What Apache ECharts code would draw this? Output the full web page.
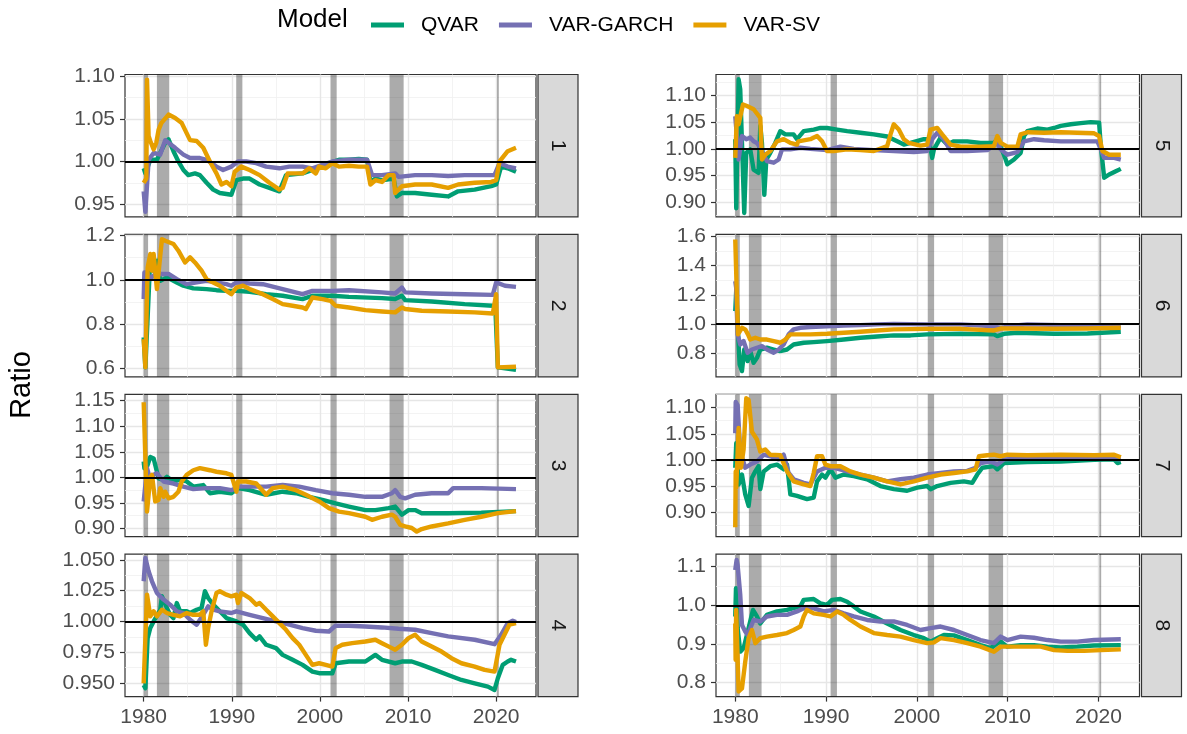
<!DOCTYPE html>
<html>
<head>
<meta charset="utf-8">
<script src="https://cdn.jsdelivr.net/npm/echarts@6/dist/echarts.min.js"></script>
<style>
  html, body { margin: 0; padding: 0; background: #ffffff; }
  #chart { width: 1187px; height: 734px; }
</style>
</head>
<body>
<div id="chart"></div>
<script>
// ---------- model names and colours ----------
const modelNames = ['QVAR', 'VAR-GARCH', 'VAR-SV'];
const modelColors = ['#009E73', '#7570B3', '#E69F00'];

// ---------- facet labels and axis ticks ----------
const panelLabels = ['1', '2', '3', '4', '5', '6', '7', '8'];
const xTickLabels = ['1980', '1990', '2000', '2010', '2020'];
const xMinorTicks = [1985, 1995, 2005, 2015];
const xRange = [1977.88, 2024.52];

const yTickLabels = [
  ['0.95', '1.00', '1.05', '1.10'],
  ['0.6', '0.8', '1.0', '1.2'],
  ['0.90', '0.95', '1.00', '1.05', '1.10', '1.15'],
  ['0.950', '0.975', '1.000', '1.025', '1.050'],
  ['0.90', '0.95', '1.00', '1.05', '1.10'],
  ['0.8', '1.0', '1.2', '1.4', '1.6'],
  ['0.90', '0.95', '1.00', '1.05', '1.10'],
  ['0.8', '0.9', '1.0', '1.1']
];
const yMinorTicks = [
  [0.975, 1.025, 1.075],
  [0.7, 0.9, 1.1],
  [0.925, 0.975, 1.025, 1.075, 1.125],
  [0.9625, 0.9875, 1.0125, 1.0375],
  [0.875, 0.925, 0.975, 1.025, 1.075, 1.125],
  [0.7, 0.9, 1.1, 1.3, 1.5],
  [0.875, 0.925, 0.975, 1.025, 1.075, 1.125],
  [0.85, 0.95, 1.05]
];
const yRanges = [
  [0.935, 1.102], [0.5625, 1.2045], [0.884, 1.1625], [0.9389, 1.0546],
  [0.8727, 1.139], [0.641, 1.6116], [0.853, 1.1256], [0.7638, 1.132]
];

// recession periods (start, end) in decimal years
const recessions = [
  [1980.0, 1980.5], [1981.5, 1982.9], [1990.5, 1991.2],
  [2001.2, 2001.9], [2007.9, 2009.5], [2020.1, 2020.3]
];

// ---------- ratio series, [year, ratio] ----------
// panel 1
const qvar1 = [[1980.0,0.992],[1980.19,0.986],[1980.75,1.002],[1981.5,1.002],[1982.44,1.022],[1982.82,1.026],[1983.38,1.012],[1983.94,1.0],[1984.51,0.990],[1985.07,0.984],[1985.82,0.986],[1986.38,0.984],[1987.14,0.975],[1987.89,0.967],[1988.64,0.963],[1989.95,0.961],[1990.52,0.978],[1991.27,0.980],[1992.02,0.980],[1993.15,0.973],[1994.27,0.969],[1995.4,0.965],[1996.15,0.984],[1998.03,0.986],[1999.15,0.990],[1999.91,0.994],[2001.03,0.998],[2002.16,1.002],[2003.29,1.002],[2004.41,1.003],[2005.35,1.002],[2005.73,0.976],[2006.29,0.980],[2007.04,0.978],[2008.36,0.980],[2008.73,0.959],[2009.3,0.963],[2010.8,0.963],[2012.68,0.961],[2014.55,0.959],[2015.68,0.965],[2017.56,0.967],[2019.44,0.971],[2020.0,0.973],[2020.56,0.994],[2021.31,0.992],[2022.25,0.988]];
const garch1 = [[1980.0,0.965],[1980.19,0.941],[1980.56,1.002],[1981.13,1.010],[1981.88,1.008],[1982.44,1.025],[1982.82,1.022],[1983.57,1.016],[1984.51,1.008],[1985.26,1.004],[1986.38,1.004],[1987.14,1.002],[1988.26,0.994],[1989.01,0.990],[1989.95,0.994],[1990.7,1.0],[1991.64,1.0],[1992.77,0.998],[1993.9,0.994],[1995.4,0.992],[1996.53,0.994],[1998.03,0.994],[1999.15,0.992],[2000.28,0.996],[2001.41,1.0],[2003.29,1.002],[2005.35,1.002],[2005.92,0.984],[2007.04,0.984],[2008.54,0.986],[2008.92,0.982],[2010.8,0.984],[2012.68,0.984],[2014.55,0.983],[2016.43,0.984],[2018.31,0.984],[2019.81,0.984],[2020.38,0.998],[2021.31,0.994],[2022.25,0.992]];
const sv1 = [[1980.0,0.975],[1980.3,0.980],[1980.38,1.096],[1980.56,1.030],[1980.75,1.024],[1981.13,1.014],[1981.43,1.022],[1981.69,1.037],[1982.0,1.045],[1982.82,1.055],[1983.57,1.051],[1984.32,1.045],[1985.26,1.025],[1986.01,1.024],[1986.76,1.016],[1987.51,1.0],[1988.26,0.986],[1988.83,0.973],[1989.39,0.976],[1989.95,0.971],[1990.33,0.988],[1991.08,0.994],[1992.02,0.990],[1993.15,0.984],[1994.27,0.975],[1995.4,0.967],[1995.77,0.969],[1996.34,0.986],[1998.03,0.986],[1998.78,0.992],[1999.53,0.986],[1999.91,0.994],[2000.66,0.992],[2001.41,0.998],[2002.16,0.994],[2003.29,0.995],[2004.41,0.994],[2005.35,0.994],[2005.73,0.973],[2006.29,0.978],[2007.04,0.976],[2007.79,0.984],[2008.36,0.984],[2008.54,0.963],[2009.3,0.971],[2010.8,0.973],[2012.68,0.973],[2014.55,0.969],[2015.68,0.973],[2017.56,0.975],[2019.44,0.976],[2020.0,0.978],[2020.38,1.0],[2021.31,1.012],[2022.25,1.016]];

// panel 2
const qvar2 = [[1980.0,0.740],[1980.19,0.605],[1980.45,0.830],[1980.75,1.101],[1981.13,1.041],[1981.5,1.086],[1981.88,0.995],[1982.63,1.011],[1983.76,0.988],[1984.51,0.973],[1985.63,0.961],[1987.14,0.958],[1988.26,0.953],[1989.39,0.950],[1990.52,0.950],[1992.02,0.946],[1993.9,0.935],[1995.77,0.928],[1998.03,0.913],[1999.15,0.928],[2001.41,0.928],[2003.29,0.923],[2007.04,0.917],[2008.54,0.913],[2009.3,0.928],[2009.67,0.908],[2012.68,0.902],[2016.43,0.890],[2019.62,0.883],[2019.9,0.880],[2020.19,0.605],[2022.25,0.594]];
const garch2 = [[1980.0,0.913],[1980.08,1.033],[1980.38,1.033],[1980.75,1.003],[1981.31,1.026],[1982.44,1.026],[1982.82,1.026],[1983.76,1.003],[1984.88,0.980],[1986.01,0.988],[1987.14,0.995],[1988.26,0.988],[1989.39,0.980],[1989.95,0.973],[1990.52,0.988],[1992.02,0.983],[1993.52,0.980],[1995.77,0.958],[1998.03,0.935],[1999.15,0.950],[2001.41,0.950],[2003.29,0.953],[2007.04,0.943],[2008.54,0.938],[2009.3,0.965],[2009.67,0.943],[2012.68,0.938],[2016.43,0.935],[2019.62,0.932],[2020.0,0.988],[2021.0,0.973],[2022.25,0.968]];
const sv2 = [[1980.0,0.732],[1980.19,0.605],[1980.45,1.056],[1980.75,1.116],[1980.94,1.041],[1981.13,1.116],[1981.5,0.958],[1981.69,0.958],[1982.07,1.183],[1982.44,1.176],[1983.38,1.161],[1983.94,1.131],[1984.69,1.078],[1985.26,1.101],[1985.82,1.078],[1986.57,1.041],[1987.14,1.003],[1987.89,0.988],[1988.64,0.973],[1989.39,0.950],[1989.95,0.935],[1990.52,0.965],[1991.27,0.973],[1992.02,0.958],[1993.52,0.935],[1994.65,0.913],[1995.77,0.890],[1996.9,0.883],[1998.03,0.875],[1998.4,0.868],[1999.15,0.920],[2000.28,0.913],[2001.22,0.905],[2001.78,0.883],[2003.29,0.875],[2005.16,0.863],[2007.04,0.857],[2008.54,0.853],[2009.3,0.875],[2009.67,0.868],[2011.55,0.860],[2014.55,0.857],[2017.56,0.853],[2019.62,0.848],[2020.0,0.935],[2020.19,0.605],[2022.25,0.608]];

// panel 3
const qvar3 = [[1980.0,1.031],[1980.08,1.018],[1980.38,1.021],[1980.75,1.040],[1981.13,1.037],[1981.31,1.040],[1981.69,0.998],[1982.25,0.995],[1982.63,1.001],[1983.38,0.992],[1984.13,0.995],[1984.88,0.992],[1985.63,0.982],[1986.76,0.985],[1987.51,0.969],[1988.64,0.972],[1989.95,0.969],[1990.7,0.979],[1992.02,0.975],[1993.9,0.966],[1995.77,0.972],[1997.28,0.969],[1998.78,0.962],[2000.28,0.956],[2001.78,0.949],[2003.29,0.943],[2005.16,0.936],[2006.29,0.936],[2007.79,0.940],[2008.54,0.943],[2009.3,0.927],[2010.05,0.936],[2010.8,0.936],[2011.55,0.930],[2014.55,0.930],[2018.31,0.931],[2022.25,0.934]];
const garch3 = [[1980.0,0.953],[1980.19,0.985],[1980.38,1.018],[1980.75,0.995],[1981.13,1.005],[1981.5,1.008],[1982.25,0.992],[1983.38,0.988],[1984.51,0.982],[1985.63,0.977],[1987.14,0.979],[1988.64,0.979],[1989.95,0.975],[1990.89,0.982],[1992.02,0.982],[1993.9,0.982],[1995.77,0.985],[1997.65,0.982],[1999.53,0.975],[2001.41,0.969],[2003.29,0.966],[2005.16,0.962],[2007.04,0.962],[2008.17,0.969],[2008.54,0.975],[2009.11,0.962],[2009.67,0.959],[2010.8,0.966],[2012.68,0.969],[2014.55,0.969],[2015.12,0.979],[2018.31,0.979],[2022.25,0.977]];
const sv3 = [[1980.0,1.147],[1980.19,1.144],[1980.38,0.933],[1980.56,0.930],[1980.75,1.001],[1980.94,1.005],[1981.31,0.953],[1981.69,0.956],[1981.88,0.979],[1982.25,0.962],[1982.44,0.972],[1982.82,0.959],[1983.38,0.962],[1983.94,0.972],[1984.32,0.992],[1984.88,1.005],[1985.63,1.014],[1986.38,1.018],[1987.51,1.014],[1988.26,1.011],[1989.39,1.008],[1989.95,1.005],[1990.52,0.972],[1990.7,0.992],[1991.64,0.992],[1992.77,0.988],[1993.9,0.966],[1994.65,0.979],[1995.77,0.982],[1997.28,0.975],[1998.4,0.966],[1999.91,0.953],[2001.03,0.940],[2002.16,0.933],[2003.29,0.930],[2005.16,0.923],[2005.92,0.917],[2007.04,0.923],[2008.17,0.927],[2008.54,0.923],[2009.11,0.907],[2009.67,0.904],[2010.42,0.901],[2010.99,0.894],[2011.55,0.899],[2012.68,0.904],[2014.55,0.910],[2016.43,0.917],[2018.31,0.923],[2020.19,0.930],[2022.25,0.934]];

// panel 4
const qvar4 = [[1980.0,0.9484],[1980.19,0.9457],[1980.45,0.9864],[1980.75,0.9946],[1981.13,1.0],[1981.88,1.0095],[1982.07,1.0204],[1982.63,1.0109],[1983.0,1.0054],[1983.38,1.0027],[1983.76,1.0149],[1984.13,1.0082],[1984.88,1.0082],[1985.26,1.0068],[1986.01,1.0095],[1986.57,1.0109],[1986.95,1.0245],[1987.32,1.019],[1987.89,1.0136],[1988.64,1.0082],[1989.39,1.0027],[1990.52,1.0],[1991.27,0.9973],[1992.02,0.9905],[1992.77,0.9851],[1993.15,0.9878],[1993.9,0.981],[1995.02,0.9783],[1995.77,0.9728],[1996.9,0.9688],[1998.03,0.9647],[1999.15,0.9592],[1999.91,0.9579],[2001.41,0.9579],[2001.78,0.966],[2003.29,0.9674],[2005.16,0.9674],[2006.29,0.9728],[2007.04,0.9688],[2008.54,0.966],[2009.3,0.9674],[2010.42,0.9674],[2011.55,0.9647],[2013.05,0.9606],[2014.55,0.9565],[2016.06,0.9524],[2017.56,0.9497],[2019.06,0.947],[2019.81,0.9443],[2020.19,0.9538],[2020.75,0.9647],[2021.31,0.9674],[2021.69,0.9688],[2022.25,0.9674]];
const garch4 = [[1980.0,1.0326],[1980.19,1.0516],[1980.56,1.0408],[1980.94,1.0326],[1981.5,1.0231],[1982.25,1.0177],[1983.0,1.0136],[1983.76,1.0082],[1984.51,1.0068],[1985.26,1.0014],[1986.01,0.9973],[1986.76,1.0054],[1987.32,1.0122],[1987.89,1.0095],[1988.64,1.0082],[1989.95,1.0068],[1990.52,1.0082],[1991.27,1.0068],[1992.02,1.0054],[1993.52,1.0027],[1995.02,1.0],[1996.53,0.9973],[1998.03,0.9946],[1999.53,0.9924],[2001.03,0.9918],[2001.78,0.9965],[2003.29,0.9965],[2005.16,0.9959],[2007.04,0.9951],[2008.92,0.994],[2010.8,0.9932],[2012.68,0.9905],[2014.55,0.9878],[2017.56,0.9851],[2019.81,0.9815],[2020.56,0.9891],[2021.31,0.9986],[2021.88,1.0005],[2022.25,0.9995]];
const sv4 = [[1980.0,0.9497],[1980.38,1.0217],[1980.75,1.0041],[1981.13,1.0082],[1981.5,1.0041],[1982.07,1.0095],[1982.63,1.0068],[1983.38,1.0054],[1984.13,1.0041],[1984.88,1.0068],[1985.63,1.0054],[1986.38,1.0054],[1986.76,1.0082],[1987.06,0.981],[1987.32,0.9946],[1987.7,1.0082],[1988.26,1.0231],[1988.64,1.0245],[1989.39,1.0217],[1989.95,1.0204],[1990.52,1.0217],[1990.7,1.0149],[1991.08,1.0231],[1992.02,1.019],[1992.77,1.0136],[1993.15,1.0149],[1993.9,1.0095],[1994.65,1.0041],[1995.4,0.9986],[1996.15,0.9932],[1996.9,0.9864],[1997.65,0.981],[1998.4,0.9728],[1999.15,0.9647],[1999.91,0.966],[2000.66,0.9647],[2001.41,0.9633],[2001.78,0.9783],[2002.54,0.981],[2003.66,0.9823],[2005.16,0.9837],[2006.29,0.9851],[2007.04,0.9823],[2008.17,0.9783],[2008.54,0.9769],[2009.3,0.981],[2010.05,0.9864],[2010.8,0.9891],[2011.55,0.9837],[2012.68,0.9796],[2013.8,0.9755],[2014.93,0.9701],[2016.06,0.966],[2017.56,0.9633],[2018.69,0.9606],[2019.81,0.9592],[2020.38,0.981],[2020.94,0.9891],[2021.5,0.9973],[2022.25,0.9986]];

// panel 5
const qvar5 = [[1980.0,1.018],[1980.11,0.889],[1980.37,1.130],[1980.55,1.111],[1980.99,0.880],[1981.21,0.9925],[1981.65,0.999],[1982.02,0.961],[1982.57,0.955],[1982.76,1.043],[1982.94,1.011],[1983.2,0.914],[1983.42,0.980],[1983.86,0.9925],[1984.41,1.011],[1984.96,1.033],[1985.51,1.027],[1986.43,1.027],[1986.8,1.018],[1987.54,1.033],[1988.64,1.036],[1989.38,1.039],[1990.11,1.039],[1991.21,1.036],[1992.32,1.033],[1993.79,1.030],[1995.26,1.027],[1996.73,1.023],[1997.83,1.014],[1998.57,1.008],[1999.3,1.011],[2000.77,1.018],[2001.32,1.018],[2001.69,0.983],[2001.88,0.999],[2002.61,1.021],[2003.35,1.008],[2004.08,1.014],[2005.55,1.014],[2007.02,1.011],[2008.49,1.011],[2008.86,1.018],[2009.23,1.005],[2009.78,0.980],[2009.96,0.971],[2010.7,0.980],[2011.43,0.9925],[2011.8,1.024],[2012.17,1.033],[2013.27,1.038],[2014.38,1.036],[2015.11,1.039],[2015.85,1.043],[2016.95,1.046],[2018.05,1.048],[2019.15,1.050],[2020.07,1.049],[2020.26,1.005],[2020.63,0.946],[2021.18,0.952],[2021.91,0.958],[2022.46,0.9625]];
const garch5 = [[1980.0,1.061],[1980.18,1.024],[1980.37,0.980],[1980.74,1.024],[1981.21,1.018],[1981.65,1.021],[1982.02,1.014],[1982.39,1.011],[1982.76,1.002],[1983.49,0.977],[1984.23,0.974],[1984.78,0.980],[1985.15,0.999],[1986.07,0.999],[1987.17,1.002],[1988.27,1.0],[1990.11,0.9975],[1991.58,1.004],[1993.05,1.0],[1995.26,0.9975],[1997.46,0.996],[1999.67,0.994],[2001.14,0.996],[2001.69,1.018],[2002.24,1.030],[2002.98,1.018],[2003.71,0.996],[2005.55,0.996],[2007.75,0.9975],[2008.86,1.011],[2009.23,0.999],[2009.96,0.989],[2011.07,0.994],[2011.8,1.014],[2012.9,1.018],[2014.01,1.016],[2015.85,1.014],[2017.68,1.014],[2019.89,1.014],[2020.26,0.999],[2020.63,0.983],[2021.73,0.983],[2022.46,0.980]];
const sv5 = [[1980.0,0.983],[1980.18,1.061],[1980.37,1.046],[1980.85,1.083],[1981.29,1.080],[1982.02,1.074],[1982.76,1.058],[1982.94,0.980],[1983.31,0.989],[1983.86,0.996],[1984.6,1.014],[1985.33,1.018],[1986.07,1.011],[1986.8,1.008],[1986.95,1.014],[1988.27,1.018],[1989.01,1.024],[1989.56,1.014],[1990.11,0.996],[1990.85,0.996],[1992.32,0.999],[1993.79,0.9975],[1995.26,0.996],[1996.73,1.005],[1997.1,1.027],[1997.46,1.046],[1998.01,1.036],[1998.57,1.018],[1999.12,1.011],[2000.4,1.006],[2001.14,1.008],[2001.51,1.036],[2002.24,1.039],[2002.79,1.027],[2003.71,1.008],[2004.82,1.004],[2007.02,1.004],[2008.49,1.005],[2008.86,1.024],[2009.23,1.011],[2009.96,1.004],[2011.07,1.004],[2011.43,1.027],[2012.17,1.031],[2014.01,1.030],[2015.85,1.031],[2017.68,1.030],[2019.52,1.029],[2020.07,1.024],[2020.44,0.996],[2021.18,0.989],[2021.91,0.989],[2022.46,0.989]];

// panel 6
const qvar6 = [[1980.0,1.089],[1980.11,1.236],[1980.26,0.998],[1980.48,0.725],[1980.74,0.680],[1980.99,0.827],[1981.36,0.748],[1981.65,0.816],[1982.02,0.736],[1982.39,0.770],[1982.76,0.827],[1983.49,0.839],[1984.23,0.827],[1984.96,0.816],[1985.7,0.827],[1986.43,0.861],[1987.54,0.873],[1988.64,0.877],[1990.11,0.884],[1991.95,0.895],[1993.79,0.907],[1995.63,0.916],[1997.46,0.923],[1999.3,0.923],[2001.14,0.930],[2004.82,0.934],[2008.49,0.930],[2008.86,0.918],[2009.6,0.934],[2011.07,0.941],[2015.11,0.934],[2018.79,0.936],[2022.46,0.948]];
const garch6 = [[1980.0,1.293],[1980.1,1.248],[1980.26,0.930],[1980.55,0.861],[1980.92,0.884],[1981.36,0.805],[1981.84,0.827],[1982.39,0.839],[1982.94,0.850],[1983.49,0.827],[1984.23,0.805],[1984.78,0.827],[1985.33,0.861],[1985.88,0.930],[1986.43,0.964],[1987.17,0.975],[1988.27,0.980],[1990.11,0.986],[1991.95,0.991],[1993.79,0.993],[1995.63,0.998],[1997.46,1.002],[2001.14,0.998],[2004.82,0.998],[2008.49,0.986],[2009.23,0.970],[2009.96,0.986],[2012.17,0.998],[2015.85,0.993],[2019.52,0.986],[2022.46,0.986]];
const sv6 = [[1980.0,1.577],[1980.15,1.566],[1980.3,0.930],[1980.74,0.975],[1981.1,0.964],[1981.4,0.930],[1981.65,0.895],[1982.21,0.907],[1982.76,0.895],[1983.49,0.895],[1984.23,0.884],[1984.96,0.873],[1985.51,0.895],[1986.07,0.930],[1986.8,0.930],[1988.27,0.930],[1990.11,0.934],[1991.95,0.941],[1993.79,0.948],[1995.63,0.957],[1997.46,0.964],[2001.14,0.968],[2004.82,0.968],[2008.49,0.957],[2009.23,0.970],[2011.43,0.970],[2015.11,0.968],[2018.79,0.970],[2022.46,0.975]];

// panel 7
const qvar7 = [[1980.0,0.985],[1980.11,1.032],[1980.37,0.953],[1980.74,0.972],[1981.1,0.934],[1981.47,0.912],[1981.84,0.966],[1982.21,0.978],[1982.57,0.988],[1982.76,0.944],[1983.13,0.978],[1983.86,0.988],[1984.6,0.991],[1985.33,0.982],[1985.7,0.991],[1986.07,0.934],[1986.8,0.931],[1987.9,0.925],[1988.64,0.928],[1989.01,0.959],[1989.56,0.972],[1989.93,0.966],[1990.48,0.982],[1991.03,0.966],[1991.95,0.972],[1993.05,0.969],[1994.52,0.963],[1995.99,0.950],[1997.46,0.944],[1998.93,0.941],[2000.04,0.947],[2001.14,0.950],[2001.51,0.944],[2002.24,0.950],[2003.71,0.956],[2005.18,0.959],[2006.1,0.956],[2006.65,0.972],[2007.21,0.985],[2008.49,0.988],[2008.86,0.982],[2009.6,0.994],[2012.17,0.996],[2015.85,0.997],[2019.52,1.0],[2021.73,1.001],[2022.1,0.994],[2022.46,0.996]];
const garch7 = [[1980.0,1.051],[1980.05,1.111],[1980.26,1.105],[1980.55,1.016],[1981.1,0.985],[1981.65,0.991],[1982.39,0.997],[1983.13,1.010],[1983.86,1.007],[1984.78,1.001],[1985.33,1.010],[1985.88,0.975],[1986.43,0.963],[1987.54,0.956],[1988.27,0.953],[1989.01,0.978],[1989.93,0.985],[1990.85,0.985],[1992.32,0.978],[1993.79,0.972],[1995.26,0.966],[1996.73,0.959],[1998.2,0.963],[1999.67,0.966],[2001.14,0.972],[2002.61,0.975],[2004.08,0.978],[2005.55,0.979],[2006.47,0.985],[2007.02,0.994],[2008.13,0.997],[2008.86,0.991],[2009.6,1.001],[2012.17,1.003],[2015.85,1.003],[2019.52,1.004],[2022.46,1.001]];
const sv7 = [[1980.0,0.871],[1980.05,0.978],[1980.11,0.947],[1980.37,1.061],[1980.63,0.985],[1980.92,1.020],[1981.21,1.118],[1981.47,1.115],[1981.84,1.054],[1982.39,1.039],[1982.76,1.016],[1983.31,1.020],[1983.86,1.010],[1984.96,1.009],[1985.7,0.978],[1986.43,0.959],[1987.54,0.953],[1988.27,0.950],[1988.64,0.975],[1989.01,1.007],[1989.56,1.007],[1989.93,0.991],[1990.48,0.988],[1991.58,0.988],[1992.68,0.978],[1993.79,0.972],[1995.26,0.966],[1996.73,0.959],[1998.2,0.953],[1999.67,0.959],[2001.14,0.966],[2002.61,0.972],[2004.08,0.975],[2005.55,0.978],[2006.47,0.982],[2006.84,1.007],[2007.75,1.009],[2008.49,1.010],[2009.23,1.007],[2009.96,1.010],[2012.17,1.009],[2015.85,1.010],[2019.52,1.009],[2021.73,1.010],[2022.46,1.005]];

// panel 8
const qvar8 = [[1980.0,0.971],[1980.08,1.044],[1980.26,0.941],[1980.55,0.880],[1980.92,0.889],[1981.47,0.941],[1981.95,0.988],[1982.39,0.971],[1982.76,0.953],[1983.49,0.975],[1984.6,0.984],[1985.7,0.988],[1987.17,0.997],[1987.54,1.014],[1988.64,1.016],[1989.38,1.005],[1990.11,1.001],[1990.66,1.014],[1991.58,1.016],[1992.32,1.009],[1993.05,0.997],[1993.79,0.984],[1995.26,0.971],[1996.73,0.953],[1998.2,0.936],[1999.67,0.923],[2000.77,0.915],[2001.51,0.906],[2002.24,0.915],[2002.98,0.923],[2004.08,0.922],[2005.55,0.910],[2007.02,0.897],[2008.13,0.889],[2008.86,0.902],[2009.23,0.906],[2009.96,0.893],[2011.43,0.897],[2012.9,0.897],[2014.38,0.893],[2015.85,0.891],[2017.68,0.893],[2019.52,0.896],[2022.46,0.897]];
const garch8 = [[1980.0,1.091],[1980.15,1.117],[1980.26,1.104],[1980.55,1.027],[1980.74,0.949],[1981.1,0.932],[1981.36,0.923],[1982.02,0.962],[1982.76,0.958],[1983.49,0.971],[1984.6,0.975],[1985.7,0.975],[1986.8,0.984],[1987.54,0.992],[1988.64,0.992],[1989.74,0.984],[1990.85,0.988],[1991.95,0.979],[1993.05,0.971],[1994.52,0.962],[1995.99,0.958],[1997.46,0.958],[1998.93,0.949],[2000.4,0.936],[2001.51,0.941],[2002.61,0.945],[2004.08,0.936],[2005.55,0.923],[2007.02,0.910],[2008.49,0.902],[2009.23,0.919],[2009.96,0.910],[2011.43,0.919],[2012.9,0.916],[2014.38,0.910],[2015.85,0.906],[2017.68,0.906],[2019.52,0.910],[2022.46,0.912]];
const sv8 = [[1980.0,0.953],[1980.04,0.859],[1980.1,0.988],[1980.37,0.777],[1980.74,0.785],[1981.1,0.854],[1981.47,0.915],[1981.84,0.936],[1982.21,0.902],[1982.76,0.915],[1983.49,0.919],[1984.6,0.923],[1985.7,0.928],[1986.43,0.936],[1987.17,0.945],[1987.54,0.971],[1987.9,0.988],[1988.64,0.979],[1989.74,0.975],[1990.48,0.971],[1991.21,0.984],[1991.95,0.975],[1992.68,0.962],[1993.79,0.945],[1995.26,0.928],[1996.73,0.923],[1998.2,0.919],[1999.67,0.910],[2001.14,0.902],[2001.88,0.904],[2002.61,0.915],[2004.08,0.910],[2005.55,0.902],[2007.02,0.893],[2008.49,0.880],[2009.23,0.893],[2010.7,0.893],[2012.17,0.893],[2013.64,0.893],[2015.11,0.884],[2016.58,0.882],[2018.42,0.882],[2020.26,0.884],[2022.46,0.886]];

const panelSeries = [
  [qvar1, garch1, sv1], [qvar2, garch2, sv2], [qvar3, garch3, sv3], [qvar4, garch4, sv4],
  [qvar5, garch5, sv5], [qvar6, garch6, sv6], [qvar7, garch7, sv7], [qvar8, garch8, sv8]
];

// ---------- layout ----------
const FONT = 'Liberation Sans';
const colLeft = [125, 716];
const colWidth = [411, 423.5];
const rowTop = [74.5, 234.4, 394.3, 554.2];
const rowHeight = 142.4;
const stripGap = 2;
const stripWidth = 40;
const tickFont = 21;
const titleFont = 26;
const axisTitleFont = 29;

const grids = [], xAxes = [], yAxes = [], series = [], graphics = [];

panelLabels.forEach((label, p) => {
  const col = p < 4 ? 0 : 1;
  const row = p % 4;
  const bottom = row === 3;
  const left = colLeft[col], top = rowTop[row], width = colWidth[col];

  grids.push({
    left: left, top: top, width: width, height: rowHeight,
    containLabel: false, outerBoundsMode: 'none',
    show: true, backgroundColor: '#ffffff', borderColor: '#333333', borderWidth: 1.2
  });

  const xTicks = xTickLabels.map(Number);
  // major x axis
  xAxes.push({
    type: 'value', gridIndex: p, min: xRange[0], max: xRange[1], position: 'bottom',
    axisLine: { show: false },
    axisTick: { show: bottom, customValues: xTicks, length: 5, lineStyle: { color: '#333333', width: 1.2 } },
    axisLabel: { show: bottom, customValues: xTicks, margin: 10, color: '#4d4d4d', fontSize: tickFont, fontFamily: FONT,
      formatter: v => xTickLabels.find(s => Number(s) === v) || '' },
    splitLine: { show: true, lineStyle: { color: '#e6e6e6', width: 1.4 } }
  });
  // minor x grid lines
  xAxes.push({
    type: 'value', gridIndex: p, min: xRange[0], max: xRange[1], position: 'top',
    axisLine: { show: false },
    axisTick: { show: false, customValues: xMinorTicks },
    axisLabel: { show: false, customValues: xMinorTicks },
    splitLine: { show: true, lineStyle: { color: '#f0f0f0', width: 0.8 } }
  });

  const yLabs = yTickLabels[p];
  const yTicks = yLabs.map(Number);
  yAxes.push({
    type: 'value', gridIndex: p, min: yRanges[p][0], max: yRanges[p][1], position: 'left',
    axisLine: { show: false },
    axisTick: { show: true, customValues: yTicks, length: 5, lineStyle: { color: '#333333', width: 1.2 } },
    axisLabel: { show: true, customValues: yTicks, margin: 10, color: '#4d4d4d', fontSize: tickFont, fontFamily: FONT,
      formatter: v => yLabs.find(s => Math.abs(Number(s) - v) < 1e-9) || '' },
    splitLine: { show: true, lineStyle: { color: '#e6e6e6', width: 1.4 } }
  });
  yAxes.push({
    type: 'value', gridIndex: p, min: yRanges[p][0], max: yRanges[p][1], position: 'right',
    axisLine: { show: false },
    axisTick: { show: false, customValues: yMinorTicks[p] },
    axisLabel: { show: false, customValues: yMinorTicks[p] },
    splitLine: { show: true, lineStyle: { color: '#f0f0f0', width: 0.8 } }
  });

  // one line per model
  panelSeries[p].forEach((data, m) => {
    series.push({
      type: 'line', name: modelNames[m], xAxisIndex: 2 * p, yAxisIndex: 2 * p,
      data: data, showSymbol: false, symbol: 'none', z: 2 + m * 0.1,
      lineStyle: { color: modelColors[m], width: 4.4, cap: 'butt', join: 'round' },
      itemStyle: { color: modelColors[m] },
      emphasis: { disabled: true }, silent: true
    });
  });

  // recession shading and the reference line at 1
  series.push({
    type: 'line', xAxisIndex: 2 * p, yAxisIndex: 2 * p, data: [], z: 4, silent: true,
    markArea: {
      silent: true,
      itemStyle: { color: 'rgba(0,0,0,0.33)' },
      data: recessions.map(r => [{ xAxis: r[0] }, { xAxis: r[1] }])
    },
    markLine: {
      silent: true, symbol: 'none', label: { show: false },
      lineStyle: { color: '#000000', width: 2.2, type: 'solid' },
      data: [{ yAxis: 1 }]
    }
  });

  // facet strip on the right of each panel
  const sx = left + width + stripGap;
  graphics.push({
    type: 'rect', shape: { x: sx, y: top, width: stripWidth, height: rowHeight },
    style: { fill: '#d9d9d9', stroke: '#333333', lineWidth: 1.2 }, silent: true
  });
  graphics.push({
    type: 'text', x: sx + stripWidth / 2, y: top + rowHeight / 2, rotation: -Math.PI / 2,
    style: { text: label, fill: '#1a1a1a', font: tickFont + 'px "' + FONT + '"', align: 'center', verticalAlign: 'middle' },
    silent: true
  });
});

// y axis title
graphics.push({
  type: 'text', x: 22, y: 385, rotation: Math.PI / 2,
  style: { text: 'Ratio', fill: '#000000', font: axisTitleFont + 'px "' + FONT + '"', align: 'center', verticalAlign: 'middle' },
  silent: true
});
// legend title
graphics.push({
  type: 'text', x: 277, y: 20,
  style: { text: 'Model', fill: '#000000', font: titleFont + 'px "' + FONT + '"', align: 'left', verticalAlign: 'middle' },
  silent: true
});

const chart = echarts.init(document.getElementById('chart'), null, { renderer: 'canvas' });
chart.setOption({
  animation: false,
  backgroundColor: '#ffffff',
  textStyle: { fontFamily: FONT },
  grid: grids,
  xAxis: xAxes,
  yAxis: yAxes,
  series: series,
  graphic: { elements: graphics },
  legend: {
    data: modelNames, left: 366, top: 8, orient: 'horizontal',
    icon: 'rect', itemWidth: 33, itemHeight: 5, itemGap: 20, selectedMode: false,
    textStyle: { color: '#000000', fontSize: 21, fontFamily: FONT, lineHeight: 24, padding: [0, 0, 0, 12] }
  }
});
</script>
</body>
</html>
